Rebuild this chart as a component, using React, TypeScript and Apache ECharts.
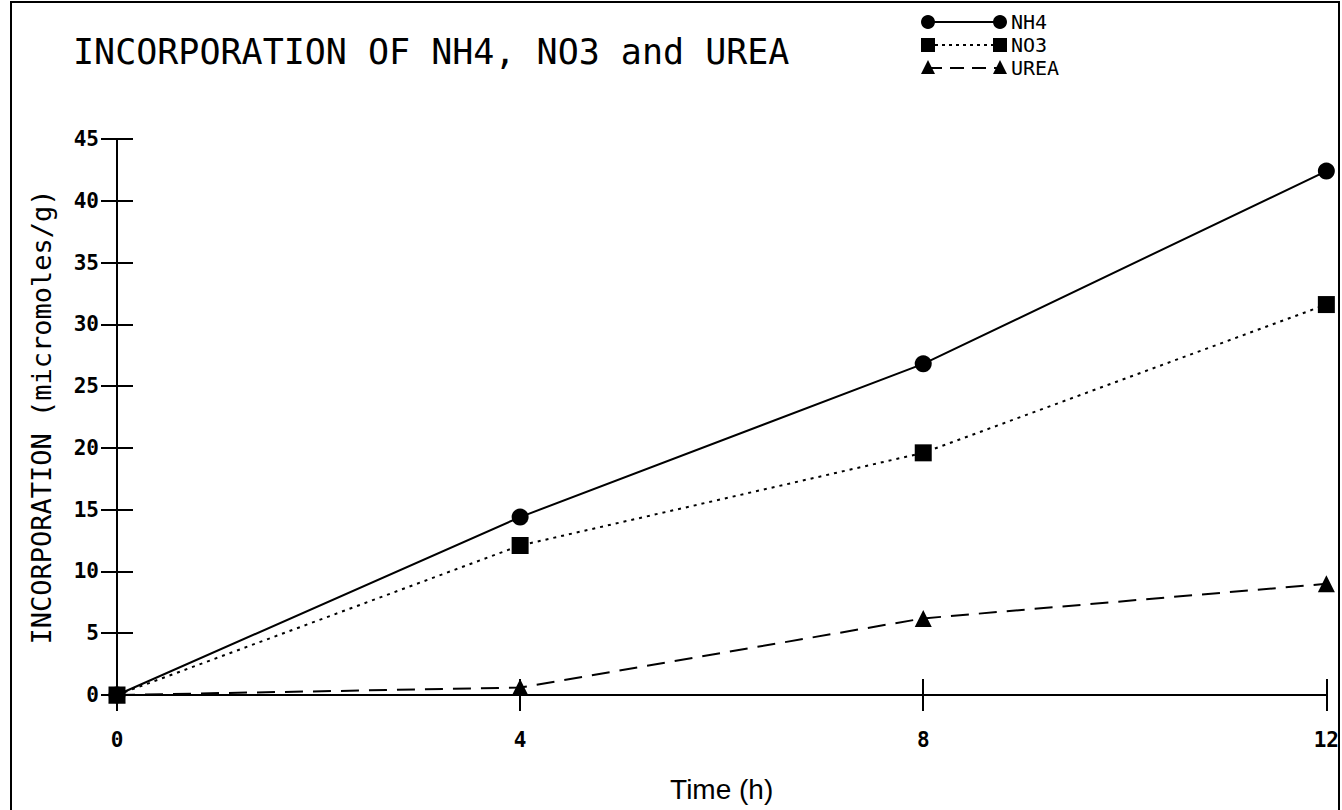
import React, { useEffect, useRef } from "react";
import * as echarts from "echarts";

const timeHours = [0, 4, 8, 12];
const nh4 = [0, 14.4, 26.8, 42.4];
const no3 = [0, 12.1, 19.6, 31.6];
const urea = [0, 0.6, 6.2, 9.0];
const seriesNames = ["NH4", "NO3", "UREA"];

const MONO = "'DejaVu Sans Mono', monospace";

export default function App() {
  const ref = useRef<HTMLDivElement>(null);
  useEffect(() => {
    if (!ref.current) return;
    const chart = echarts.init(ref.current, null, { renderer: "svg" });
    const toPts = (arr: number[]) => timeHours.map((t, i) => [t, arr[i]]);
    const symbols = ["circle", "rect", "triangle"];
    const lineTypes: any[] = ["solid", [3, 5], [18, 10]];
    const dataSets = [nh4, no3, urea];

    const legendGraphics: any[] = [];
    seriesNames.forEach((name, i) => {
      const y = 22 + i * 23;
      legendGraphics.push({
        type: "line",
        shape: { x1: 928, y1: y, x2: 1000, y2: y },
        style: { stroke: "#000", lineWidth: 2, lineDash: i === 0 ? null : i === 1 ? [3, 4] : [14, 8] },
      });
      [928, 1000].forEach((cx) => {
        if (i === 0) legendGraphics.push({ type: "circle", shape: { cx, cy: y, r: 7 }, style: { fill: "#000" } });
        else if (i === 1) legendGraphics.push({ type: "rect", shape: { x: cx - 7, y: y - 7, width: 14, height: 14 }, style: { fill: "#000" } });
        else legendGraphics.push({ type: "polygon", shape: { points: [[cx, y - 8], [cx - 7, y + 6], [cx + 7, y + 6]] }, style: { fill: "#000" } });
      });
      legendGraphics.push({
        type: "text",
        x: 1011,
        y,
        style: { text: name, font: `20px ${MONO}`, fill: "#000", textVerticalAlign: "middle" },
      });
    });

    const option: any = {
      animation: false,
      backgroundColor: "#fff",
      grid: { left: 117, right: 13, top: 139, bottom: 115, containLabel: false },
      title: {
        text: "INCORPORATION OF NH4, NO3 and UREA",
        left: 68,
        top: 29,
        textStyle: { fontFamily: MONO, fontSize: 35, fontWeight: "normal", color: "#000" },
      },
      xAxis: [
        {
          type: "value",
          min: 0,
          max: 12,
          interval: 4,
          name: "Time (h)",
          nameLocation: "middle",
          nameGap: 80,
          nameTextStyle: { fontFamily: "'Liberation Sans', sans-serif", fontSize: 28, color: "#000" },
          axisLine: { show: true, lineStyle: { color: "#000", width: 2 } },
          axisTick: { show: true, length: 16, lineStyle: { color: "#000", width: 2 } },
          axisLabel: { margin: 34, fontFamily: MONO, fontSize: 21, fontWeight: "bold", color: "#000" },
          splitLine: { show: false },
        },
        {
          type: "value",
          min: 0,
          max: 12,
          interval: 4,
          position: "bottom",
          axisLine: { show: false },
          axisTick: { show: true, inside: true, length: 16, lineStyle: { color: "#000", width: 2 } },
          axisLabel: { show: false },
          splitLine: { show: false },
        },
      ],
      yAxis: [
        {
          type: "value",
          min: 0,
          max: 45,
          interval: 5,
          name: "INCORPORATION (micromoles/g)",
          nameLocation: "middle",
          nameGap: 62,
          nameRotate: 90,
          nameTextStyle: { fontFamily: MONO, fontSize: 27, color: "#000" },
          axisLine: { show: true, lineStyle: { color: "#000", width: 2 } },
          axisTick: { show: true, length: 16, lineStyle: { color: "#000", width: 2 } },
          axisLabel: { margin: 18, fontFamily: MONO, fontSize: 21, fontWeight: "bold", color: "#000" },
          splitLine: { show: false },
        },
        {
          type: "value",
          min: 0,
          max: 45,
          interval: 5,
          position: "left",
          axisLine: { show: false },
          axisTick: { show: true, inside: true, length: 16, lineStyle: { color: "#000", width: 2 } },
          axisLabel: { show: false },
          splitLine: { show: false },
        },
      ],
      series: seriesNames.map((name, i) => ({
        name,
        type: "line",
        data: toPts(dataSets[i]),
        symbol: symbols[i],
        symbolSize: 17,
        itemStyle: { color: "#000" },
        lineStyle: { color: "#000", width: 2, type: lineTypes[i] },
        z: 5,
      })),
      graphic: [
        {
          type: "polyline",
          shape: { points: [[11, 810], [11, 2], [1339, 2], [1339, 810]] },
          style: { stroke: "#000", lineWidth: 2, fill: "none" },
        },
        ...legendGraphics,
      ],
    };
    chart.setOption(option);
    return () => chart.dispose();
  }, []);
  return <div ref={ref} style={{ position: "absolute", left: 0, top: 0, width: 1342, height: 810 }} />;
}
